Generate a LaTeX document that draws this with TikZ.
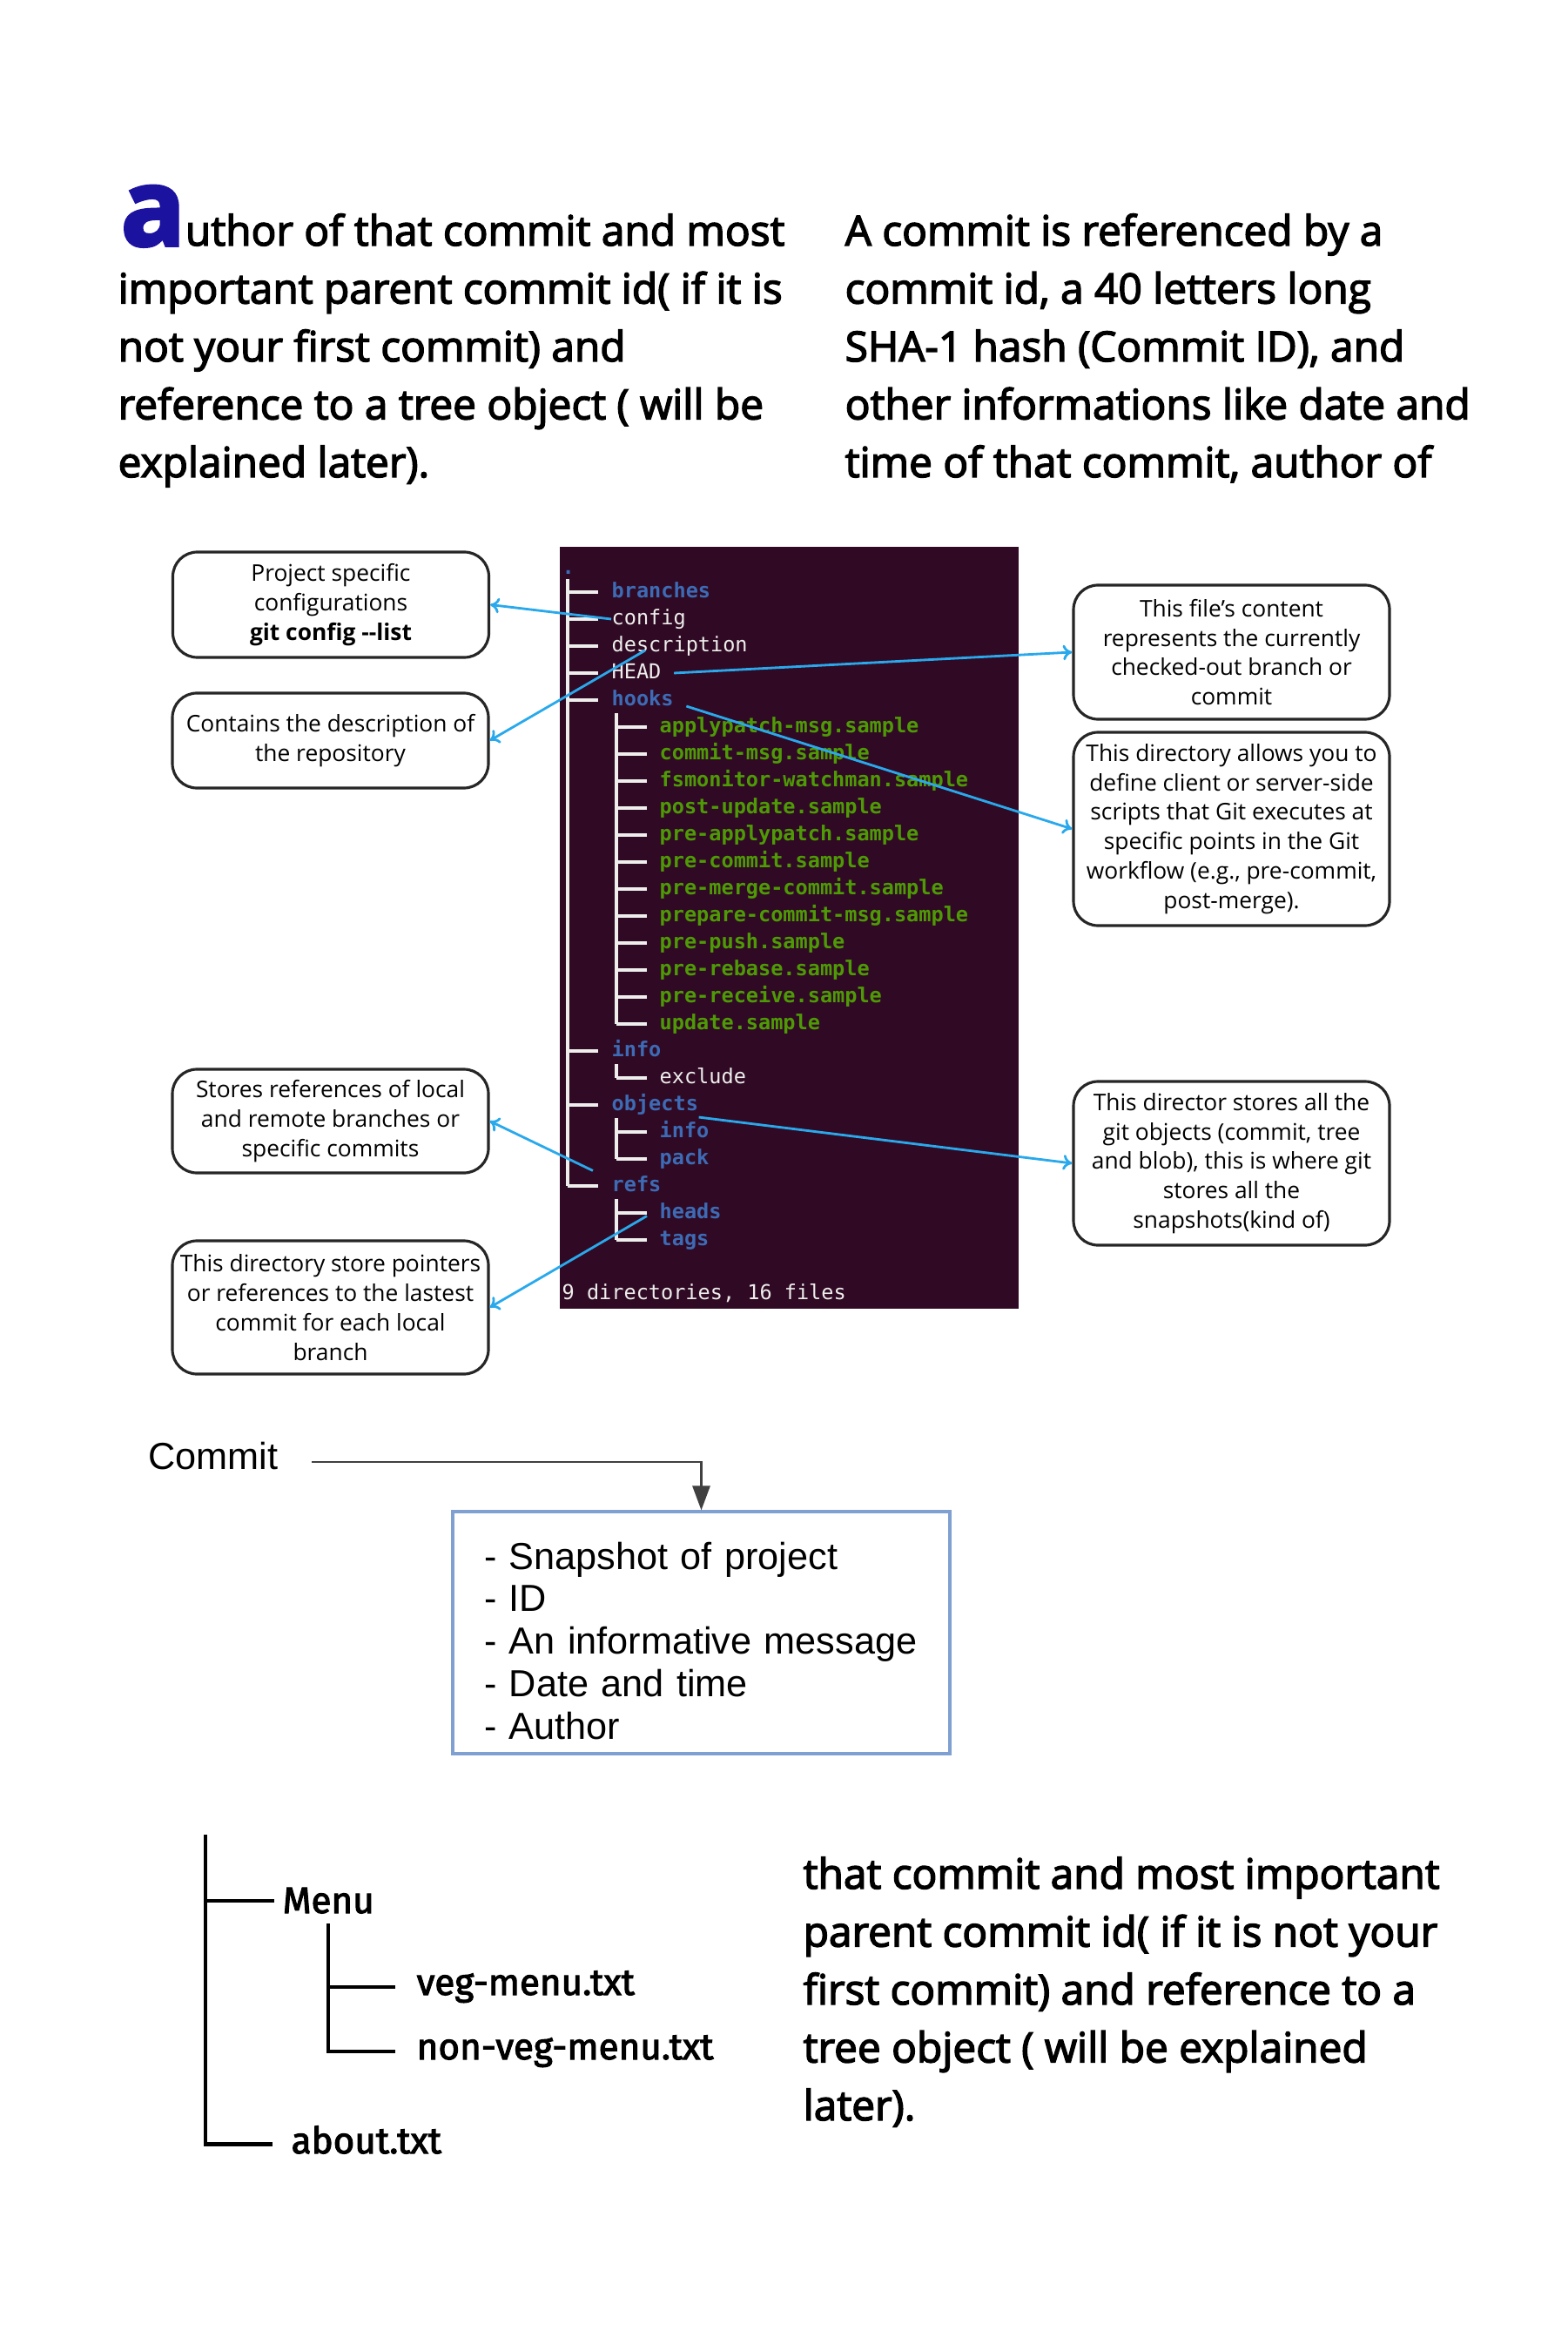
\documentclass[tikz,border=0pt]{standalone}
\usepackage{fontspec}
\usetikzlibrary{arrows.meta}
\newfontfamily\bodyfont{Open Sans}[FakeBold=3]
\newfontfamily\notefont{Open Sans}
\newfontfamily\termfont{DejaVu Sans Mono}
\newfontfamily\listfont{Liberation Sans}
\newfontfamily\treefont{Fira Sans}[FakeBold=2.5]
\definecolor{dropblue}{HTML}{1C12A0}
\definecolor{termbg}{HTML}{300A24}
\definecolor{dirblue}{HTML}{3D6BB5}
\definecolor{exegreen}{HTML}{4E9A06}
\definecolor{termwhite}{HTML}{EEEEEC}
\definecolor{callblue}{HTML}{29A9EC}
\definecolor{boxblue}{HTML}{7FA0D0}

\begin{document}
\begin{tikzpicture}[
    para/.style={anchor=base west, inner sep=0pt, font=\bodyfont\fontsize{13.6}{16}\selectfont},
    note/.style={draw=black!85, line width=0.9pt, rounded corners=8pt, fill=white, align=center,
        minimum width=3.63cm, inner sep=1pt, font=\notefont\fontsize{7.5}{9.6}\selectfont},
    callout/.style={draw=callblue, line width=0.8pt, -{To[length=3pt,width=5pt]}},
    term/.style={anchor=west, inner sep=0pt, text height=5pt, text depth=1.3pt, text=termwhite,
        font=\termfont\fontsize{6.7}{8}\selectfont},
    dirtxt/.style={term, text=dirblue, font=\termfont\bfseries\fontsize{6.7}{8}\selectfont},
    exetxt/.style={term, text=exegreen, font=\termfont\bfseries\fontsize{6.7}{8}\selectfont},
    termline/.style={draw=termwhite, line width=0.9pt},
    commitbox/.style={draw=boxblue, line width=0.9pt, minimum width=5.71cm, minimum height=2.78cm,
        text width=4.99cm, inner xsep=0.36cm, align=left, font=\listfont\fontsize{12.3}{13.9}\selectfont},
    commitarrow/.style={draw=black!75, line width=0.8pt, -{Triangle[length=0.28cm,width=0.2cm]}},
    treelbl/.style={anchor=base west, inner sep=0pt, font=\treefont\fontsize{12}{14}\selectfont},
    treeline/.style={draw=black, line width=1.2pt}
]
    \path[fill=white, use as bounding box] (0,0) rectangle (18,-27);

    %! --- Top paragraphs ---
    \node[para] (lft0) at (1.38,-2.82) {{\bfseries\fontsize{35}{35}\selectfont\color{dropblue}a}uthor of that commit and most};
    \foreach \i/\txt in {1/{important parent commit id( if it is}, 2/{not your first commit) and},
                         3/{reference to a tree object ( will be}, 4/{explained later).}} {
        \node[para] (lft\i) at (1.35,{-2.82-0.665*\i}) {\txt};
    }
    \foreach \i/\txt in {0/{A commit is referenced by a}, 1/{commit id, a 40 letters long},
                         2/{SHA-1 hash (Commit ID), and}, 3/{other informations like date and},
                         4/{time of that commit, author of}} {
        \node[para] (rgt\i) at (9.70,{-2.82-0.665*\i}) {\txt};
    }

    %! --- Terminal ---
    \fill[termbg] (6.43,-6.28) rectangle (11.70,-15.03);
    \node[dirtxt] (root) at (6.45,-6.53) {.};
    % tree lines
    \draw[termline] (6.52,-6.65) -- (6.52,-13.62);
    \foreach \i in {0,1,2,3,4,17,19,22} {
        \draw[termline] (6.52,{-6.80-0.31*\i}) -- (6.87,{-6.80-0.31*\i});
    }
    \foreach \a/\b in {4/16,17/18,19/21,22/24} {
        \draw[termline] (7.08,{-6.80-0.31*\a-0.15}) -- (7.08,{-6.80-0.31*\b});
    }
    \foreach \i in {5,...,16} {
        \draw[termline] (7.08,{-6.80-0.31*\i}) -- (7.43,{-6.80-0.31*\i});
    }
    \foreach \i in {18,20,21,23,24} {
        \draw[termline] (7.08,{-6.80-0.31*\i}) -- (7.43,{-6.80-0.31*\i});
    }
    % entries
    \foreach \i/\nm in {0/branches,4/hooks,17/info,19/objects,22/refs} {
        \node[dirtxt] (\nm) at (7.02,{-6.80-0.31*\i}) {\nm};
    }
    \foreach \i/\nm in {1/config,2/description,3/HEAD} {
        \node[term] (\nm) at (7.02,{-6.80-0.31*\i}) {\nm};
    }
    \foreach \i/\nm in {5/applypatch-msg,6/commit-msg,7/fsmonitor-watchman,8/post-update,
                        9/pre-applypatch,10/pre-commit,11/pre-merge-commit,12/prepare-commit-msg,
                        13/pre-push,14/pre-rebase,15/pre-receive,16/update} {
        \node[exetxt] (hook\i) at (7.57,{-6.80-0.31*\i}) {\nm.sample};
    }
    \node[term] (exclude) at (7.57,{-6.80-0.31*18}) {exclude};
    \foreach \i/\nm/\lbl in {20/objinfo/info,21/pack/pack,23/heads/heads,24/tags/tags} {
        \node[dirtxt] (\nm) at (7.57,{-6.80-0.31*\i}) {\lbl};
    }
    \node[term] (summary) at (6.45,{-6.80-0.31*26}) {9 directories, 16 files};

    %! --- Callouts ---
    \node[note, minimum height=1.21cm] (L1) at (3.80,-6.945) {Project specific\\configurations\\\textbf{git config -{}-list}};
    \node[note, minimum height=1.09cm] (L2) at (3.795,-8.505) {Contains the description of\\the repository};
    \node[note, minimum height=1.19cm] (L3) at (3.795,-12.875) {Stores references of local\\and remote branches or\\specific commits};
    \node[note, minimum height=1.53cm] (L4) at (3.795,-15.015) {This directory store pointers\\or references to the lastest\\commit for each local\\branch};
    \node[note, minimum height=1.54cm] (R1) at (14.145,-7.49) {This file’s content\\represents the currently\\checked-out branch or\\commit};
    \node[note, minimum height=2.22cm] (R2) at (14.145,-9.52) {This directory allows you to\\define client or server-side\\scripts that Git executes at\\specific points in the Git\\workflow (e.g., pre-commit,\\post-merge).};
    \node[note, minimum height=1.88cm] (R3) at (14.145,-13.36) {This director stores all the\\git objects (commit, tree\\and blob), this is where git\\stores all the\\snapshots(kind of)};
    % arrows
    \draw[callout] (config.west) -- (L1.east);
    \draw[callout] ([xshift=0.39cm,yshift=-0.05cm]description.west) -- (L2.east);
    \draw[callout] ([xshift=4pt]HEAD.east) -- (R1.west);
    \draw[callout] ([xshift=4pt,yshift=-2pt]hooks.east) -- (R2.west);
    \draw[callout] ([yshift=-4pt]objects.east) -- (R3.west);
    \draw[callout] ([xshift=-6pt,yshift=5pt]refs.west) -- (L3.east);
    \draw[callout] ([xshift=-4pt,yshift=-1pt]heads.west) -- (L4.east);

    %! --- Commit ---
    \node[anchor=base west, inner sep=0pt, font=\listfont\fontsize{12.3}{14}\selectfont] (commitlbl) at (1.70,-16.87) {Commit};
    \node[commitbox] (cbox) at (8.055,-18.75) {\rule{0pt}{0.5cm}- Snapshot of project\\- ID\\- An informative message\\- Date and time\\- Author};
    \draw[commitarrow] ([xshift=0.38cm,yshift=0.08cm]commitlbl.base east) -| (cbox.north);

    %! --- Folder tree ---
    \node[treelbl] (menu) at (3.24,-21.97) {Menu};
    \node[treelbl] (veg) at (4.78,-22.91) {veg-menu.txt};
    \node[treelbl] (nonveg) at (4.78,-23.65) {non-veg-menu.txt};
    \node[treelbl] (about) at (3.34,-24.73) {about.txt};
    \coordinate (trunk) at (2.36,-21.07);
    \coordinate (subtrunk) at (3.77,-22.09);
    \draw[treeline] (trunk) |- ([xshift=-0.09cm]menu.west);
    \draw[treeline] (trunk) |- ([xshift=-0.21cm,yshift=-0.05cm]about.west);
    \draw[treeline] (subtrunk) |- ([xshift=-0.24cm]veg.west);
    \draw[treeline] (subtrunk) |- ([xshift=-0.24cm]nonveg.west);

    %! --- Bottom paragraph ---
    \foreach \i/\txt in {0/{that commit and most important}, 1/{parent commit id( if it is not your},
                         2/{first commit) and reference to a}, 3/{tree object ( will be explained},
                         4/{later).}} {
        \node[para] (btm\i) at (9.22,{-21.69-0.665*\i}) {\txt};
    }
\end{tikzpicture}
\end{document}
